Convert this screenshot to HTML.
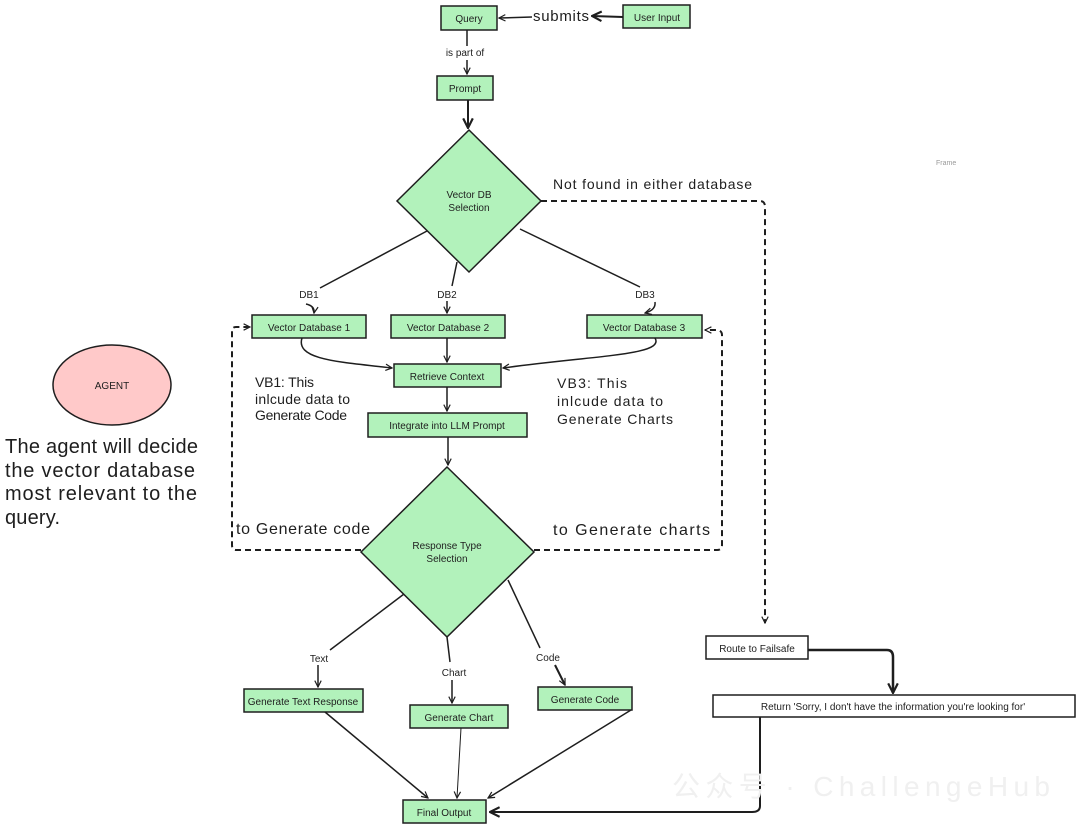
<!DOCTYPE html>
<html><head><meta charset="utf-8"><style>
body{margin:0;background:#fff;}
svg text{font-family:"Liberation Sans",sans-serif;fill:#1e1e1e;}
</style></head><body>
<svg width="1080" height="829" viewBox="0 0 1080 829" xmlns="http://www.w3.org/2000/svg">
<defs>
<marker id="a" viewBox="0 0 10 10" refX="9" refY="5" markerWidth="8" markerHeight="8" orient="auto-start-reverse" markerUnits="userSpaceOnUse"><path d="M1,1 L9,5 L1,9" fill="none" stroke="#1e1e1e" stroke-width="1.5"/></marker>
<marker id="b" viewBox="0 0 10 10" refX="9" refY="5" markerWidth="12" markerHeight="12" orient="auto" markerUnits="userSpaceOnUse"><path d="M1,1 L9,5 L1,9" fill="none" stroke="#1e1e1e" stroke-width="1.8"/></marker>
</defs>
<g fill="#b2f2bb" stroke="#1e1e1e" stroke-width="1.5">
<rect x="441" y="6" width="56" height="24"/>
<rect x="623" y="5" width="67" height="23"/>
<rect x="437" y="76" width="56" height="24"/>
<polygon points="469,130 541,201 469,272 397,201"/>
<rect x="252" y="315" width="114" height="23"/>
<rect x="391" y="315" width="114" height="23"/>
<rect x="587" y="315" width="115" height="23"/>
<rect x="394" y="364" width="107" height="23"/>
<rect x="368" y="413" width="159" height="24"/>
<polygon points="447,467 534,552 447,637 361,552"/>
<rect x="244" y="689" width="119" height="23"/>
<rect x="410" y="705" width="98" height="23"/>
<rect x="538" y="687" width="94" height="23"/>
<rect x="403" y="800" width="83" height="23"/>
</g>
<g fill="#fff" stroke="#1e1e1e" stroke-width="1.5">
<rect x="706" y="636" width="102" height="23"/>
<rect x="713" y="695" width="362" height="22"/>
</g>
<ellipse cx="112" cy="385" rx="59" ry="40" fill="#ffc9c9" stroke="#1e1e1e" stroke-width="1.5"/>
<g fill="none" stroke="#1e1e1e" stroke-width="1.5">
<path d="M623,17 L592,16" marker-end="url(#b)" stroke-width="2"/>
<path d="M532,17 L499,18" marker-end="url(#a)"/>
<path d="M467,30 L467,46"/><path d="M467,60 L467,74" marker-end="url(#a)"/>
<path d="M468,100 L468,128" marker-end="url(#b)" stroke-width="2"/>
<path d="M427,231 L320,288"/><path d="M306,304 Q315,306 314,313" marker-end="url(#a)"/>
<path d="M457,262 L452,286"/><path d="M447,301 L447,313" marker-end="url(#a)"/>
<path d="M520,229 L640,287"/><path d="M655,302 Q656,310 645,313" marker-end="url(#a)"/>
<path d="M302,338 C295,360 340,362 392,368" marker-end="url(#a)"/>
<path d="M447,338 L447,362" marker-end="url(#a)"/>
<path d="M655,338 C665,355 600,355 503,368" marker-end="url(#a)"/>
<path d="M447,387 L447,411" marker-end="url(#a)"/>
<path d="M448,437 L448,465" marker-end="url(#a)"/>
<path d="M404,594 L330,650"/><path d="M318,665 L318,687" marker-end="url(#a)"/>
<path d="M447,637 L450,662"/><path d="M452,680 L452,703" marker-end="url(#a)"/>
<path d="M508,580 L540,648"/><path d="M555,665 L565,685" marker-end="url(#a)" stroke-width="2"/>
<path d="M325,712 L428,798" marker-end="url(#a)"/>
<path d="M461,728 L457,798" marker-end="url(#a)" stroke-width="1"/>
<path d="M631,710 L488,798" marker-end="url(#a)"/>
<path d="M808,650 L887,650 Q893,650 893,657 L893,693" marker-end="url(#b)" stroke-width="2.5"/>
<path d="M760,717 L760,806 Q760,812 752,812 L490,812" marker-end="url(#b)" stroke-width="2"/>
<g stroke-dasharray="6,4" stroke-width="2">
<path d="M541,201 L760,201 Q765,201 765,207 L765,623" marker-end="url(#a)"/>
<path d="M361,550 L236,550 Q232,550 232,545 L232,331 Q232,327 236,327 L250,327" marker-end="url(#a)"/>
<path d="M534,550 L717,550 Q722,550 722,545 L722,335 Q722,330 716,330 L705,330" marker-end="url(#a)"/>
</g>
</g>
<g font-size="10" text-anchor="middle">
<text x="469" y="22">Query</text>
<text x="657" y="21">User Input</text>
<text x="465" y="92">Prompt</text>
<text x="469" y="198">Vector DB</text><text x="469" y="211">Selection</text>
<text x="309" y="331">Vector Database 1</text>
<text x="448" y="331">Vector Database 2</text>
<text x="644" y="331">Vector Database 3</text>
<text x="447" y="380">Retrieve Context</text>
<text x="447" y="429">Integrate into LLM Prompt</text>
<text x="447" y="549">Response Type</text><text x="447" y="562">Selection</text>
<text x="303" y="705">Generate Text Response</text>
<text x="459" y="721">Generate Chart</text>
<text x="585" y="703">Generate Code</text>
<text x="444" y="816">Final Output</text>
<text x="757" y="652">Route to Failsafe</text>
<text x="893" y="710">Return 'Sorry, I don't have the information you're looking for'</text>
<text x="112" y="389">AGENT</text>
<text x="465" y="56">is part of</text>
<text x="309" y="298">DB1</text><text x="447" y="298">DB2</text><text x="645" y="298">DB3</text>
<text x="319" y="662">Text</text><text x="454" y="676">Chart</text><text x="548" y="661">Code</text>
</g>
<text x="533" y="21" font-size="15" textLength="56">submits</text>
<text x="553" y="189" font-size="14" textLength="199">Not found in either database</text>
<g font-size="14">
<text x="255" y="387" textLength="59">VB1: This</text><text x="255" y="404" textLength="95">inlcude data to</text><text x="255" y="420" textLength="92">Generate Code</text>
<text x="557" y="388" textLength="70">VB3: This</text><text x="557" y="406" textLength="106">inlcude data to</text><text x="557" y="424" textLength="116">Generate Charts</text>
<text x="236" y="534" font-size="16" textLength="134">to Generate code</text>
<text x="553" y="535" font-size="16" textLength="157">to Generate charts</text>
</g>
<g font-size="20">
<text x="5" y="453" textLength="193">The agent will decide</text>
<text x="5" y="477" textLength="190">the vector database</text>
<text x="5" y="500" textLength="192">most relevant to the</text>
<text x="5" y="524" textLength="55">query.</text>
</g>
<text x="936" y="165" font-size="7" style="fill:#999">Frame</text>
<text x="672" y="796" font-size="28" textLength="378" style="fill:#f0f0f0">公众号 · ChallengeHub</text>
</svg>
</body></html>
